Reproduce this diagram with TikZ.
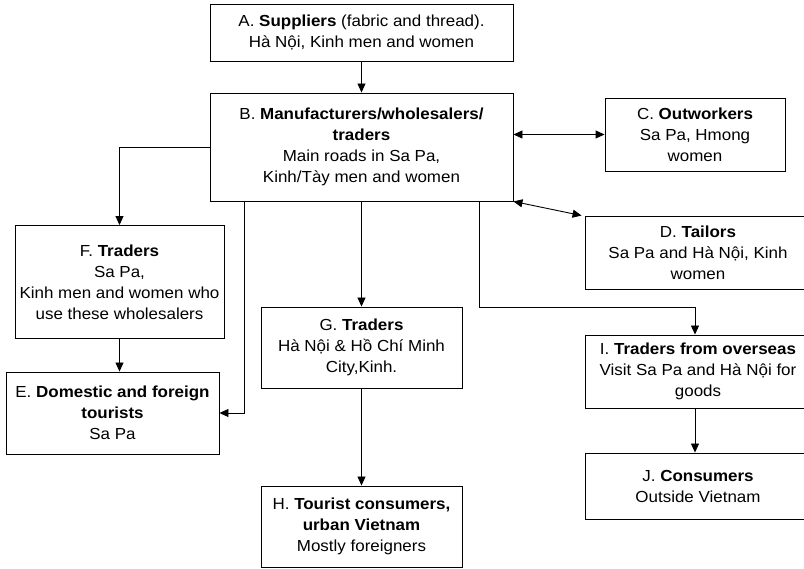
\documentclass[tikz,border=0pt]{standalone}
\usepackage{fontspec}
\setmainfont[FakeStretch=1.06]{Liberation Sans}
\usetikzlibrary{arrows.meta}

\begin{document}
\begin{tikzpicture}[
    x=1pt, y=-1pt,
    box/.style={draw, line width=0.9pt, align=center, inner sep=0pt,
        font=\fontsize{16}{21}\selectfont},
    arr/.style={line width=0.9pt, -{Triangle[length=9pt,width=8pt]}},
    both/.style={line width=0.9pt, {Triangle[length=9pt,width=8pt]}-{Triangle[length=9pt,width=8pt]}},
]
\useasboundingbox (0,0) rectangle (804,569);

% Top of the chain
\node[box, minimum width=303, minimum height=57] (suppliers) at (361.5,32.5) {
    A. \textbf{Suppliers} (fabric and thread).\\
    Hà Nội, Kinh men and women
};

\node[box, minimum width=303, minimum height=108] (manuf) at (361.5,147) {
    B. \textbf{Manufacturers/wholesalers/}\\
    \textbf{traders}\\
    Main roads in Sa Pa,\\
    Kinh/Tày men and women
};

% Boxes on the right side
\node[box, minimum width=180, minimum height=73] (outwork) at (695,134.5) {
    C. \textbf{Outworkers}\\
    Sa Pa, Hmong\\
    women
};

\node[box, minimum width=226, minimum height=73] (tailors) at (698,252.5) {
    D. \textbf{Tailors}\\
    Sa Pa and Hà Nội, Kinh\\
    women
};

\node[box, minimum width=226, minimum height=73] (overseas) at (698,371.5) {
    I. \textbf{Traders from overseas}\\
    Visit Sa Pa and Hà Nội for\\
    goods
};

\node[box, minimum width=226, minimum height=66] (consumers) at (698,486) {
    J. \textbf{Consumers}\\
    Outside Vietnam
};

% Boxes on the left side
\node[box, minimum width=209, minimum height=113] (sapatraders) at (119.5,282) {
    F. \textbf{Traders}\\
    Sa Pa,\\
    Kinh men and women who\\
    use these wholesalers
};

\node[box, minimum width=213, minimum height=82] (tourists) at (112.5,413) {
    E. \textbf{Domestic and foreign}\\
    \textbf{tourists}\\
    Sa Pa
};

% Boxes in the middle
\node[box, minimum width=201, minimum height=81] (citytraders) at (361.5,347.5) {
    G. \textbf{Traders}\\
    Hà Nội \& Hồ Chí Minh\\
    City,Kinh.
};

\node[box, minimum width=201, minimum height=81] (urban) at (361.5,526.5) {
    H. \textbf{Tourist consumers,}\\
    \textbf{urban Vietnam}\\
    Mostly foreigners
};

% Flows out of the suppliers and manufacturers
\draw[arr] (suppliers) -- (manuf);
\draw[both] (manuf.east |- outwork.west) -- (outwork.west);
\draw[both] (manuf.south east) -- ([xshift=-3pt]tailors.north west);
\draw[arr] (manuf.west) -| (sapatraders.north);
\draw[arr] (manuf.south west) ++(35,0) |- (tourists.east);
\draw[arr] (manuf) -- (citytraders);
\draw[arr] (manuf.south east) ++(-34,0) -- ++(0,106) -| ([xshift=-3pt]overseas.north);

% Flows further down
\draw[arr] (sapatraders) -- (tourists.north -| sapatraders.south);
\draw[arr] (citytraders) -- (urban);
\draw[arr] ([xshift=-3pt]overseas.south) -- ([xshift=-3pt]consumers.north);

\end{tikzpicture}
\end{document}
